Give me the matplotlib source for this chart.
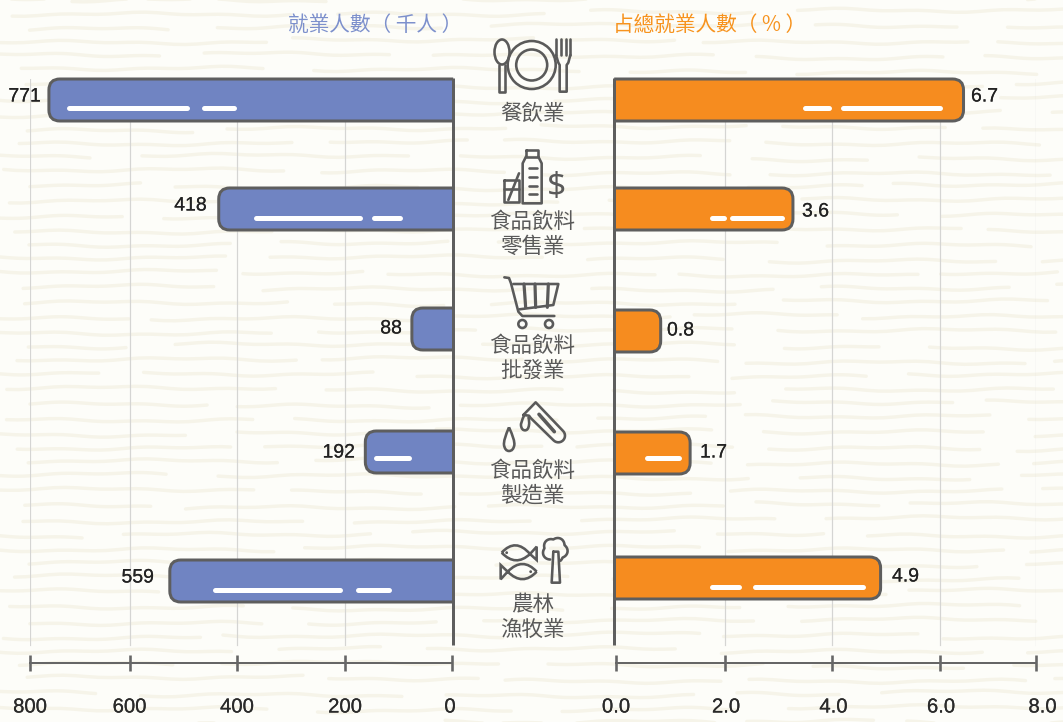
import numpy as np
import matplotlib
matplotlib.use("Agg")
import matplotlib.pyplot as plt
import matplotlib.patheffects as pe
from matplotlib.patches import PathPatch, Circle, Ellipse
from matplotlib.path import Path
from matplotlib.transforms import ScaledTranslation

CJK = ['Noto Sans CJK TC', 'DejaVu Sans']
plt.rcParams['font.family'] = CJK

# ---- data -------------------------------------------------------------
industries = ['餐飲業', '食品飲料\n零售業', '食品飲料\n批發業', '食品飲料\n製造業', '農林\n漁牧業']
employed_labels = ['771', '418', '88', '192', '559']
share_labels = ['6.7', '3.6', '0.8', '1.7', '4.9']
# bar lengths as drawn in the picture, read against its axis
employed_drawn = [762, 434, 75, 162, 525]
share_drawn = [6.49, 3.27, 0.82, 1.36, 4.90]
left_ticks = [0, 200, 400, 600, 800]
right_ticks = [0.0, 2.0, 4.0, 6.0, 8.0]
left_ticklabels = ['0', '200', '400', '600', '800']
right_ticklabels = ['0.0', '2.0', '4.0', '6.0', '8.0']
left_title = '就業人數（ 千人 ）'
right_title = '占總就業人數（ % ）'

# ---- layout / style ----------------------------------------------------
W, H = 1063, 722
BLUE, ORANGE, EDGE = '#7084c2', '#f68c1f', '#5e5e5e'
PX = 72 / 100
NUM = ['Liberation Sans']
NUM_FX = [pe.withStroke(linewidth=0.12, foreground='#222222')]
left_y = [100, 209, 329, 452, 581]
right_y = [100, 209, 331, 453, 578]
left_tick_px = [0, 107, 215, 322.5, 422]
right_tick_px = [0, 109, 216, 324, 420]

fig = plt.figure(figsize=(W / 100, H / 100), dpi=100, facecolor='#fdfdf9')


def full_axes(z):
    a = fig.add_axes([0, 0, 1, 1], zorder=z)
    a.set_xlim(0, W)
    a.set_ylim(H, 0)
    a.axis('off')
    a.patch.set_alpha(0)
    return a


bg = full_axes(0)
fg = full_axes(5)

# wavy paper texture (deterministic)
row = 0
for y0 in np.arange(-2, H + 10, 14.5):
    x = -40 + 70 * abs(np.sin(row * 2.3))
    seg = 0
    while x < W + 20:
        length = 90 + 190 * abs(np.sin(row * 1.7 + seg * 2.1))
        xs = np.linspace(x, x + length, 24)
        ys = y0 + 2.2 * np.sin(row * 0.9 + seg * 1.3) + 1.3 * np.sin(xs / 37 + row) + 0.8 * np.sin(xs / 13 + seg)
        bg.plot(xs, ys, color='#f6f4e9', lw=3.4 * PX, solid_capstyle='round')
        x += length + 22 + 30 * abs(np.sin(seg * 3.1 + row))
        seg += 1
    row += 1


def make_axes(x0, x1, vals, px, inverted):
    a = fig.add_axes([x0 / W, (H - 662.5) / H, (x1 - x0) / W, 583.5 / H], zorder=2)
    a.patch.set_alpha(0)
    vals = np.array(vals, float)
    px = np.array(px, float)
    step = vals[1] - vals[0]
    v = np.r_[vals[0] - step, vals, vals[-1] + step]
    p = np.r_[px[0] - (px[1] - px[0]), px, px[-1] + (px[-1] - px[-2])]
    a.set_xscale('function', functions=(lambda t: np.interp(t, v, p), lambda t: np.interp(t, p, v)))
    a.set_xlim((vals[-1], vals[0]) if inverted else (vals[0], vals[-1]))
    a.set_ylim(662.5, 79)
    a.set_yticks([])
    a.set_xticks(vals)
    a.minorticks_off()
    for s in ('top', 'left', 'right'):
        a.spines[s].set_visible(False)
    a.spines['bottom'].set_color('#666666')
    a.spines['bottom'].set_linewidth(2 * PX)
    a.tick_params(axis='x', direction='inout', length=16 * PX, width=2.6 * PX, color='#666666',
                  pad=27 * PX, labelsize=14.6, labelcolor='#2a2a2a')
    return a


axL = make_axes(30, 452, left_ticks, left_tick_px, True)
axR = make_axes(616, 1036, right_ticks, right_tick_px, False)
axL.set_xticklabels(left_ticklabels)
axR.set_xticklabels(right_ticklabels)

for lab, dx in zip(axL.get_xticklabels(), [-2, 0, 0, 0, 0]):
    lab.set_transform(lab.get_transform() + ScaledTranslation(dx * PX / 72, 0, fig.dpi_scale_trans))
    lab.set_family(NUM)
    lab.set_path_effects(NUM_FX)
for lab, dx in zip(axR.get_xticklabels(), [0, 1, 1.5, 1, 6.5]):
    lab.set_transform(lab.get_transform() + ScaledTranslation(dx * PX / 72, 0, fig.dpi_scale_trans))
    lab.set_family(NUM)
    lab.set_path_effects(NUM_FX)

# grid lines stop above the axis line
GRID_TOP = 1.0
GRID_BOT = (662.5 - 645) / 583.5
for a, ticks in ((axL, left_ticks[1:]), (axR, right_ticks[1:])):
    for t in ticks:
        a.axvline(t, ymin=GRID_BOT, ymax=GRID_TOP, color='#d5d5d3', lw=1.2 * PX, zorder=1)


def to_px(a, x, y):
    d = a.transData.transform((x, y))
    return fg.transData.inverted().transform(d)


def rounded_path(xa, xb, yt, yb, r):
    """Bar running from xa (square end) to xb (round end), in image pixels."""
    s = 1 if xb > xa else -1
    verts = [(xa, yt), (xb - s * r, yt), (xb, yt), (xb, yt + r), (xb, yb - r), (xb, yb), (xb - s * r, yb), (xa, yb)]
    codes = [Path.MOVETO, Path.LINETO, Path.CURVE3, Path.CURVE3, Path.LINETO, Path.CURVE3, Path.CURVE3, Path.LINETO]
    return Path(verts, codes)


def draw_bars(a, ys, vals, color, spine_px):
    bars = a.barh(ys, vals, height=42, color=color, edgecolor='none', zorder=3)
    for rect in bars:
        (x0, yt) = to_px(a, rect.get_x(), rect.get_y())
        (x1, yb) = to_px(a, rect.get_x() + rect.get_width(), rect.get_y() + rect.get_height())
        yt, yb = min(yt, yb), max(yt, yb)
        p = rounded_path(spine_px, x1, yt, yb, 11)
        closed = Path(np.r_[p.vertices, [p.vertices[0]]], list(p.codes) + [Path.LINETO])
        fill = PathPatch(closed, facecolor=color, edgecolor='none', transform=fg.transData, zorder=3, clip_on=False)
        a.add_patch(fill)
        rect.set_clip_path(fill)
        fg.add_patch(PathPatch(p, facecolor='none', edgecolor=EDGE, lw=3 * PX, capstyle='butt', joinstyle='round'))


draw_bars(axL, left_y, employed_drawn, BLUE, 453.2)
draw_bars(axR, right_y, share_drawn, ORANGE, 614.2)

# axis stems
fg.plot([453.2, 453.2], [77.5, 645], color=EDGE, lw=3 * PX, solid_capstyle='butt')
fg.plot([614.2, 614.2], [77.5, 645], color=EDGE, lw=3 * PX, solid_capstyle='butt')

# white highlights on the bars
highlights = [(66.5, 189.5, 108), (201.5, 236.5, 108), (253.5, 362.5, 218), (371.5, 402.5, 218), (373.5, 411.5, 458),
              (212.5, 342.5, 590), (355.5, 391.5, 590), (802.5, 831.5, 108), (840.5, 942.5, 108), (709.5, 726.5, 218),
              (729.5, 784.5, 218), (644.5, 681.5, 458), (709.5, 741.5, 587), (752.5, 865.5, 587)]
for xa, xb, y in highlights:
    fg.plot([xa + 2.5, xb - 2.5], [y, y], color='white', lw=5 * PX, solid_capstyle='round')

# value labels
for lab, x, y in zip(employed_labels, [41, 207, 402, 355, 154], [97, 206, 329, 453, 578]):
    fg.text(x, y, lab, ha='right', va='center', fontsize=14, color='#222222', family=NUM, path_effects=NUM_FX)
for lab, x, y in zip(share_labels, [971, 802, 667, 700, 892], [97, 212, 331, 453, 577]):
    fg.text(x, y, lab, ha='left', va='center', fontsize=14, color='#222222', family=NUM, path_effects=NUM_FX)

# titles
fg.text(375, 24.5, left_title, ha='center', va='center', fontsize=14.9, color='#7d90cc')
fg.text(710, 24.5, right_title, ha='center', va='center', fontsize=14.9, color='#f7931e')

# category labels
for lab, y in zip(industries, [113.5, 234, 358, 483.5, 617.5]):
    fg.text(532.5, y, lab, ha='center', va='center', fontsize=15.5, color='#5a5a5a', linespacing=1.17)

# ---- icons -------------------------------------------------------------
IC = '#5a5a5a'
LW = 2.6 * PX


def pl(origin, pts, lw=LW, close=False):
    pts = np.array(pts, float) / 3 + origin
    if close:
        pts = np.r_[pts, pts[:1]]
    fg.plot(pts[:, 0], pts[:, 1], color=IC, lw=lw, solid_capstyle='round', solid_joinstyle='round')


def curve(origin, verts, codes):
    v = np.array(verts, float) / 3 + origin
    fg.add_patch(PathPatch(Path(v, codes), fc='none', ec=IC, lw=LW))


def circ(x, y, r, **kw):
    fg.add_patch(Circle((x, y), r, fc=kw.get('fc', 'none'), ec=IC, lw=kw.get('lw', LW)))


# plate, spoon, fork
circ(531.7, 65, 24)
circ(531.7, 65, 15.5)
fg.add_patch(Ellipse((502, 52), 15, 25, fc='none', ec=IC, lw=LW))
pl((0, 0), [(1497, 195), (1497, 275), (1514, 275), (1514, 195)])
o = (0, 0)
for x in (1668, 1683, 1697, 1711):
    pl(o, [(x, 118), (x, 165)])
pl(o, [(1668, 165), (1675, 188), (1679, 195), (1679, 275), (1700, 275), (1700, 195), (1705, 188), (1711, 165)])

# bottle, glass, dollar
o = (495, 145)
pl(o, [(93, 14), (130, 14), (130, 35), (93, 35)], close=True)
pl(o, [(93, 35), (83, 55), (83, 175), (140, 175), (140, 55), (130, 35)])
for y in (70, 95, 122, 148):
    pl(o, [(103, y), (125, y)])
pl(o, [(27, 105), (72, 105), (72, 172), (27, 172)], close=True)
pl(o, [(27, 132), (72, 132)])
pl(o, [(72, 85), (40, 165)])
fg.text(556.5, 187.5, '$', ha='center', va='center', fontsize=24, color=IC, family=['Noto Sans'], fontweight='light')

# cart
o = (495, 270)
pl(o, [(28, 22), (42, 24), (48, 40), (70, 125), (82, 138), (178, 138)])
pl(o, [(55, 42), (190, 42), (175, 105), (73, 118)])
for xa, xb in ((87, 92), (120, 122), (160, 157)):
    pl(o, [(xa, 42), (xb, 112)], lw=3.2 * PX)
circ(495 + 82 / 3, 270 + 162 / 3, 4)
circ(495 + 162 / 3, 270 + 162 / 3, 4)

# tube and drops
o = (495, 395)
t = np.linspace(-0.25 * np.pi, 0.75 * np.pi, 14)
arc = np.c_[190 + 20 * np.cos(t), 122 + 20 * np.sin(t)]
pl(o, [(85, 60), (122, 22)] + arc.tolist() + [(108, 70), (102, 62), (85, 60)])
pl(o, [(132, 58), (178, 110)], lw=3.6 * PX)
M, C3, L = Path.MOVETO, Path.CURVE3, Path.LINETO
curve(o, [(42, 97), (25, 135), (27, 150), (30, 168), (42, 168), (55, 168), (58, 150), (60, 135), (42, 97)],
      [M, C3, C3, C3, C3, C3, C3, C3, C3])
curve(o, [(88, 60), (76, 85), (78, 92), (80, 106), (90, 106), (100, 106), (102, 90), (104, 80), (100, 66)],
      [M, C3, C3, C3, C3, C3, C3, C3, C3])

# fish and tree
o = (495, 530)
curve(o, [(20, 68), (62, 22), (105, 72), (125, 50), (125, 90), (105, 72), (62, 112), (20, 68)],
      [M, C3, C3, L, L, L, C3, C3])
circ(495 + 35 / 3, 530 + 68 / 3, 0.7, fc=IC, lw=1)
curve(o, [(125, 125), (83, 79), (38, 125), (17, 105), (17, 148), (38, 125), (83, 170), (125, 125)],
      [M, C3, C3, L, L, L, C3, C3])
circ(495 + 107 / 3, 530 + 125 / 3, 0.7, fc=IC, lw=1)
th = np.linspace(0.65 * np.pi, 2.35 * np.pi, 90)
rad = 32 + 6 * np.abs(np.sin(2.5 * (th - 0.65 * np.pi)))
crown = np.c_[180 + rad * np.cos(th), 60 + rad * np.sin(th)]
pl(o, crown.tolist())
pl(o, [(175, 65), (190, 65), (195, 158), (170, 158)], close=True)

fig.savefig('out.png', dpi=100, facecolor=fig.get_facecolor())
